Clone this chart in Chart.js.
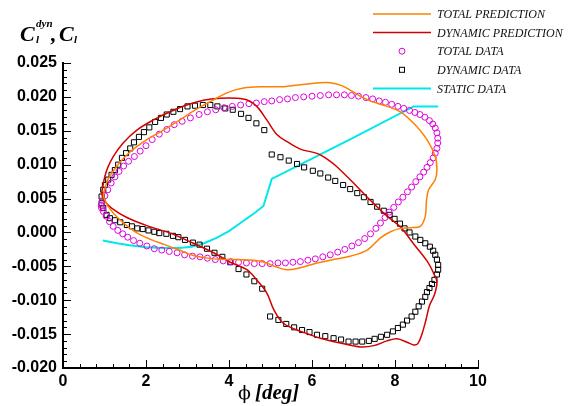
<!DOCTYPE html>
<html>
<head>
<meta charset="utf-8">
<script src="https://cdn.jsdelivr.net/npm/chart.js@4.4.1/dist/chart.umd.min.js"></script>
<style>
  html, body { margin: 0; padding: 0; background: #fff; }
  canvas { display: block; }
</style>
</head>
<body>
<canvas id="chart" width="570" height="406"></canvas>
<script>
// tick values and labels
var xTickValues = [0, 2, 4, 6, 8, 10];
var xTickLabels = ['0', '2', '4', '6', '8', '10'];
var yTickValues = [-0.020, -0.015, -0.010, -0.005, 0.000, 0.005, 0.010, 0.015, 0.020, 0.025];
var yTickLabels = ['-0.020', '-0.015', '-0.010', '-0.005', '0.000', '0.005', '0.010', '0.015', '0.020', '0.025'];

var legendNames = ['TOTAL PREDICTION', 'DYNAMIC PREDICTION', 'TOTAL DATA', 'DYNAMIC DATA', 'STATIC DATA'];
var seriesColors = ['#ff8000', '#d20000', '#dd00dd', '#000000', '#00e8e8'];

// [phi deg, C_l]
var totalPrediction = [
  [0.97,0.0053],[0.99,0.0060],[1.03,0.0069],[1.09,0.0079],[1.30,0.0098],[1.62,0.0119],[2.02,0.0137],
  [2.42,0.0151],[2.82,0.0166],[3.06,0.0176],[3.30,0.0185],[3.55,0.0193],[3.95,0.0206],[4.35,0.0213],
  [4.83,0.0215],[5.31,0.0215],[5.72,0.0218],[6.20,0.0221],[6.44,0.0221],[6.70,0.0217],[6.92,0.0210],
  [7.33,0.0196],[7.81,0.0186],[8.13,0.0178],[8.45,0.0161],[8.77,0.0137],[8.97,0.0112],[9.01,0.0093],
  [8.97,0.0078],[8.81,0.0063],[8.76,0.0048],[8.73,0.0024],[8.61,0.0009],[8.37,0.0007],[8.13,0.0006],
  [7.89,0.0001],[7.65,-0.0008],[7.33,-0.0026],[6.92,-0.0035],[6.52,-0.0040],[6.12,-0.0045],[5.72,-0.0052],
  [5.40,-0.0055],[5.10,-0.0050],[4.85,-0.0044],[4.59,-0.0041],[4.19,-0.0040],[3.63,-0.0039],[3.14,-0.0034],
  [2.80,-0.0026],[2.45,-0.0018],[2.14,-0.0011],[1.74,0.0001],[1.33,0.0021],[1.09,0.0038],[0.97,0.0053]
];

var dynamicPrediction = [
  [0.93,0.0058],[0.96,0.0068],[1.01,0.0083],[1.08,0.0096],[1.21,0.0112],[1.45,0.0132],[1.78,0.0151],
  [2.18,0.0166],[2.58,0.0178],[2.98,0.0188],[3.38,0.0195],[3.79,0.0198],[4.19,0.0198],[4.45,0.0195],
  [4.67,0.0186],[4.91,0.0166],[5.16,0.0144],[5.40,0.0134],[5.72,0.0123],[6.15,0.0116],[6.44,0.0105],
  [6.60,0.0097],[7.00,0.0073],[7.41,0.0047],[7.81,0.0024],[8.13,0.0008],[8.45,-0.0017],[8.77,-0.0042],
  [8.93,-0.0060],[9.01,-0.0073],[8.95,-0.0092],[8.83,-0.0108],[8.75,-0.0128],[8.65,-0.0150],[8.55,-0.0164],
  [8.45,-0.0166],[8.29,-0.0162],[8.05,-0.0157],[7.81,-0.0160],[7.49,-0.0167],[7.17,-0.0169],[6.68,-0.0163],
  [6.20,-0.0156],[5.96,-0.0151],[5.64,-0.0144],[5.31,-0.0134],[5.08,-0.0114],[4.91,-0.0089],[4.67,-0.0070],
  [4.43,-0.0055],[4.03,-0.0044],[3.63,-0.0030],[3.14,-0.0016],[2.58,-0.0001],[2.02,0.0010],[1.54,0.0022],
  [1.17,0.0036],[1.00,0.0047],[0.93,0.0058]
];

var totalData = [
  [0.92,0.0040],[0.95,0.0047],[1.01,0.0054],[1.08,0.0063],[1.16,0.0073],[1.25,0.0082],[1.35,0.0090],
  [1.46,0.0098],[1.58,0.0105],[1.72,0.0112],[1.86,0.0120],[2.00,0.0128],[2.15,0.0137],[2.32,0.0145],
  [2.50,0.0152],[2.68,0.0159],[2.87,0.0164],[3.07,0.0169],[3.28,0.0174],[3.48,0.0178],[3.68,0.0181],
  [3.88,0.0184],[4.08,0.0186],[4.28,0.0188],[4.48,0.0190],[4.66,0.0191],[4.85,0.0193],[5.03,0.0194],
  [5.22,0.0196],[5.41,0.0197],[5.60,0.0199],[5.80,0.0200],[6.00,0.0201],[6.20,0.0202],[6.40,0.0203],
  [6.59,0.0203],[6.78,0.0203],[6.95,0.0202],[7.12,0.0201],[7.30,0.0199],[7.46,0.0197],[7.62,0.0194],
  [7.77,0.0192],[7.92,0.0189],[8.07,0.0186],[8.21,0.0183],[8.35,0.0180],[8.48,0.0177],[8.60,0.0174],
  [8.72,0.0170],[8.83,0.0165],[8.91,0.0160],[8.97,0.0154],[9.01,0.0147],[9.03,0.0139],[9.03,0.0132],
  [9.01,0.0124],[8.97,0.0117],[8.92,0.0110],[8.85,0.0103],[8.77,0.0096],[8.69,0.0089],[8.60,0.0082],
  [8.50,0.0075],[8.40,0.0067],[8.30,0.0060],[8.19,0.0052],[8.08,0.0045],[7.97,0.0037],[7.86,0.0030],
  [7.76,0.0022],[7.65,0.0014],[7.54,0.0006],[7.41,-0.0002],[7.27,-0.0009],[7.12,-0.0015],[6.96,-0.0020],
  [6.79,-0.0025],[6.62,-0.0029],[6.44,-0.0033],[6.26,-0.0036],[6.08,-0.0039],[5.90,-0.0041],[5.72,-0.0043],
  [5.54,-0.0044],[5.36,-0.0045],[5.18,-0.0045],[4.99,-0.0046],[4.80,-0.0046],[4.61,-0.0046],[4.42,-0.0045],
  [4.23,-0.0044],[4.04,-0.0043],[3.86,-0.0042],[3.67,-0.0040],[3.48,-0.0038],[3.30,-0.0036],[3.12,-0.0035],
  [2.93,-0.0033],[2.75,-0.0030],[2.56,-0.0028],[2.38,-0.0026],[2.20,-0.0024],[2.02,-0.0020],[1.85,-0.0016],
  [1.70,-0.0012],[1.56,-0.0007],[1.44,-0.0002],[1.32,0.0003],[1.21,0.0009],[1.12,0.0016],[1.04,0.0024],
  [0.97,0.0031],[0.93,0.0036]
];

var dynamicData = [
  [0.93,0.0053],[0.97,0.0063],[1.01,0.0070],[1.09,0.0078],[1.17,0.0085],[1.25,0.0092],[1.33,0.0100],
  [1.42,0.0110],[1.52,0.0117],[1.62,0.0124],[1.71,0.0133],[1.83,0.0141],[1.95,0.0148],[2.08,0.0155],
  [2.22,0.0163],[2.36,0.0169],[2.50,0.0174],[2.66,0.0178],[2.82,0.0182],[3.00,0.0186],[3.18,0.0187],
  [3.37,0.0188],[3.55,0.0188],[3.72,0.0186],[3.91,0.0183],[4.09,0.0181],[4.29,0.0175],[4.47,0.0169],
  [4.66,0.0161],[4.85,0.0151],
  [5.03,0.0115],[5.24,0.0111],[5.44,0.0106],[5.64,0.0101],[5.81,0.0096],[6.02,0.0091],[6.20,0.0087],
  [6.39,0.0081],[6.56,0.0076],[6.75,0.0070],[6.92,0.0064],[7.09,0.0058],[7.25,0.0052],[7.41,0.0045],
  [7.57,0.0038],[7.73,0.0032],[7.87,0.0026],[7.99,0.0020],[8.12,0.0013],[8.23,0.0006],[8.35,0.0000],
  [8.49,-0.0006],[8.61,-0.0011],[8.73,-0.0016],[8.84,-0.0021],[8.92,-0.0027],[8.97,-0.0033],[9.01,-0.0040],
  [9.04,-0.0048],[9.04,-0.0055],[9.01,-0.0062],[8.95,-0.0070],[8.89,-0.0076],[8.83,-0.0082],[8.77,-0.0088],
  [8.73,-0.0095],[8.65,-0.0102],[8.57,-0.0109],[8.49,-0.0117],[8.40,-0.0124],[8.29,-0.0130],[8.19,-0.0136],
  [8.07,-0.0141],[7.95,-0.0146],[7.81,-0.0151],[7.66,-0.0154],[7.51,-0.0157],[7.37,-0.0160],[7.21,-0.0161],
  [7.05,-0.0161],[6.88,-0.0161],[6.70,-0.0158],[6.52,-0.0156],[6.32,-0.0153],[6.12,-0.0151],[5.94,-0.0147],
  [5.76,-0.0144],[5.57,-0.0140],[5.38,-0.0135],[5.19,-0.0129],[4.99,-0.0124],
  [4.80,-0.0083],[4.61,-0.0072],[4.42,-0.0062],[4.23,-0.0054],[4.03,-0.0044],[3.84,-0.0036],[3.65,-0.0030],
  [3.47,-0.0024],[3.29,-0.0018],[3.13,-0.0015],[2.94,-0.0011],[2.78,-0.0007],[2.65,-0.0005],[2.49,-0.0002],
  [2.32,-0.0001],[2.20,0.0001],[2.06,0.0003],[1.92,0.0005],[1.79,0.0006],[1.66,0.0009],[1.54,0.0011],
  [1.38,0.0015],[1.25,0.0018],[1.13,0.0021],[1.05,0.0026],[0.97,0.0036],[0.93,0.0043]
];

var staticData = [
  [0.96,-0.0012],[1.30,-0.0016],[1.60,-0.0019],[2.00,-0.0022],[2.40,-0.0023],[2.80,-0.0023],[3.10,-0.0021],
  [3.40,-0.0016],[3.70,-0.0008],[4.00,0.0002],[4.30,0.0015],[4.60,0.0028],[4.83,0.0039],[5.03,0.0079],
  [6.00,0.0109],[7.00,0.0140],[8.45,0.0186],[9.04,0.0186]
];

function pts(arr) {
  return arr.map(function (p) { return { x: p[0], y: p[1] }; });
}

// inward ticks, titles and legend (Tecplot look)
var decorPlugin = {
  id: 'decor',
  afterDraw: function (chart) {
    var ctx = chart.ctx;
    var xs = chart.scales.x, ys = chart.scales.y;
    var a = chart.chartArea;
    var i, p, len;
    ctx.save();
    ctx.strokeStyle = '#000';
    ctx.lineWidth = 1;
    for (i = -20; i <= 25; i++) {
      p = Math.round(ys.getPixelForValue(i / 1000)) + 0.5;
      len = (i % 5 === 0) ? 8 : 4;
      ctx.beginPath(); ctx.moveTo(a.left, p); ctx.lineTo(a.left + len, p); ctx.stroke();
    }
    for (i = 0; i <= 25; i++) {
      p = Math.round(xs.getPixelForValue(i * 0.4)) + 0.5;
      len = (i % 5 === 0) ? 8 : 4;
      ctx.beginPath(); ctx.moveTo(p, a.bottom); ctx.lineTo(p, a.bottom - len); ctx.stroke();
    }

    // y title: C_l^dyn, C_l
    ctx.fillStyle = '#000';
    ctx.textBaseline = 'alphabetic';
    ctx.textAlign = 'left';
    ctx.font = 'bold italic 22px "Liberation Serif"';
    ctx.fillText('C', 20, 41);
    ctx.font = 'bold italic 11px "Liberation Serif"';
    ctx.fillText('dyn', 36, 27);
    ctx.fillText('l', 36, 43);
    ctx.font = 'bold italic 22px "Liberation Serif"';
    ctx.fillText(',', 51, 41);
    ctx.fillText('C', 59, 41);
    ctx.font = 'bold italic 11px "Liberation Serif"';
    ctx.fillText('l', 74, 43);

    // x title
    ctx.font = '19px "DejaVu Serif"';
    ctx.fillText('\u03D5', 238, 399);
    ctx.font = 'bold italic 21px "Liberation Serif"';
    ctx.fillText('[deg]', 255, 399);

    // legend
    ctx.font = 'italic 12px "Liberation Serif"';
    ctx.textBaseline = 'middle';
    for (i = 0; i < legendNames.length; i++) {
      var y = 14 + i * 18.6;
      ctx.strokeStyle = seriesColors[i];
      if (i === 2) {
        ctx.lineWidth = 1;
        ctx.beginPath(); ctx.arc(402, y, 3, 0, Math.PI * 2); ctx.stroke();
      } else if (i === 3) {
        ctx.lineWidth = 1;
        ctx.strokeRect(399.5, y - 2.5, 5, 5);
      } else {
        ctx.lineWidth = (i === 4) ? 2 : 1.5;
        ctx.beginPath(); ctx.moveTo(373, y); ctx.lineTo(431, y); ctx.stroke();
      }
      ctx.fillStyle = '#111';
      ctx.fillText(legendNames[i], 437, y + 1);
    }
    ctx.restore();
  }
};

var chart = new Chart(document.getElementById('chart'), {
  type: 'scatter',
  data: {
    datasets: [
      {
        label: legendNames[0],
        data: pts(totalPrediction),
        showLine: true,
        borderColor: seriesColors[0],
        borderWidth: 1.5,
        pointRadius: 0,
        tension: 0.35,
        order: 1
      },
      {
        label: legendNames[1],
        data: pts(dynamicPrediction),
        showLine: true,
        borderColor: seriesColors[1],
        borderWidth: 1.5,
        pointRadius: 0,
        tension: 0.35,
        order: 2
      },
      {
        label: legendNames[2],
        data: pts(totalData),
        showLine: false,
        pointStyle: 'circle',
        pointRadius: 3,
        pointBorderWidth: 1,
        pointBorderColor: seriesColors[2],
        pointBackgroundColor: 'rgba(0,0,0,0)',
        order: 3
      },
      {
        label: legendNames[3],
        data: pts(dynamicData),
        showLine: false,
        pointStyle: 'rect',
        pointRadius: 3.6,
        pointBorderWidth: 1,
        pointBorderColor: seriesColors[3],
        pointBackgroundColor: 'rgba(0,0,0,0)',
        order: 4
      },
      {
        label: legendNames[4],
        data: pts(staticData),
        showLine: true,
        borderColor: seriesColors[4],
        borderWidth: 2,
        pointRadius: 0,
        tension: 0,
        order: 5
      }
    ]
  },
  options: {
    responsive: false,
    animation: false,
    events: [],
    layout: { padding: { left: 0, right: 92, top: 63, bottom: 0 } },
    plugins: {
      legend: { display: false },
      tooltip: { enabled: false }
    },
    scales: {
      x: {
        type: 'linear',
        min: 0,
        max: 10,
        grid: { display: false, drawTicks: false },
        border: { display: true, color: '#000', width: 2 },
        afterBuildTicks: function (s) {
          s.ticks = xTickValues.map(function (v) { return { value: v }; });
        },
        afterFit: function (s) { s.height = 38; },
        ticks: {
          padding: 4,
          color: '#000',
          font: { family: 'Liberation Sans', size: 16, weight: 'bold' },
          callback: function (v, i) { return xTickLabels[i]; }
        }
      },
      y: {
        type: 'linear',
        min: -0.020,
        max: 0.025,
        grid: { display: false, drawTicks: false },
        border: { display: true, color: '#000', width: 2 },
        afterBuildTicks: function (s) {
          s.ticks = yTickValues.map(function (v) { return { value: v }; });
        },
        afterFit: function (s) { s.width = 63; },
        ticks: {
          padding: 6,
          color: '#000',
          font: { family: 'Liberation Sans', size: 16, weight: 'bold' },
          callback: function (v, i) { return yTickLabels[i]; }
        }
      }
    }
  },
  plugins: [decorPlugin]
});
</script>
</body>
</html>
